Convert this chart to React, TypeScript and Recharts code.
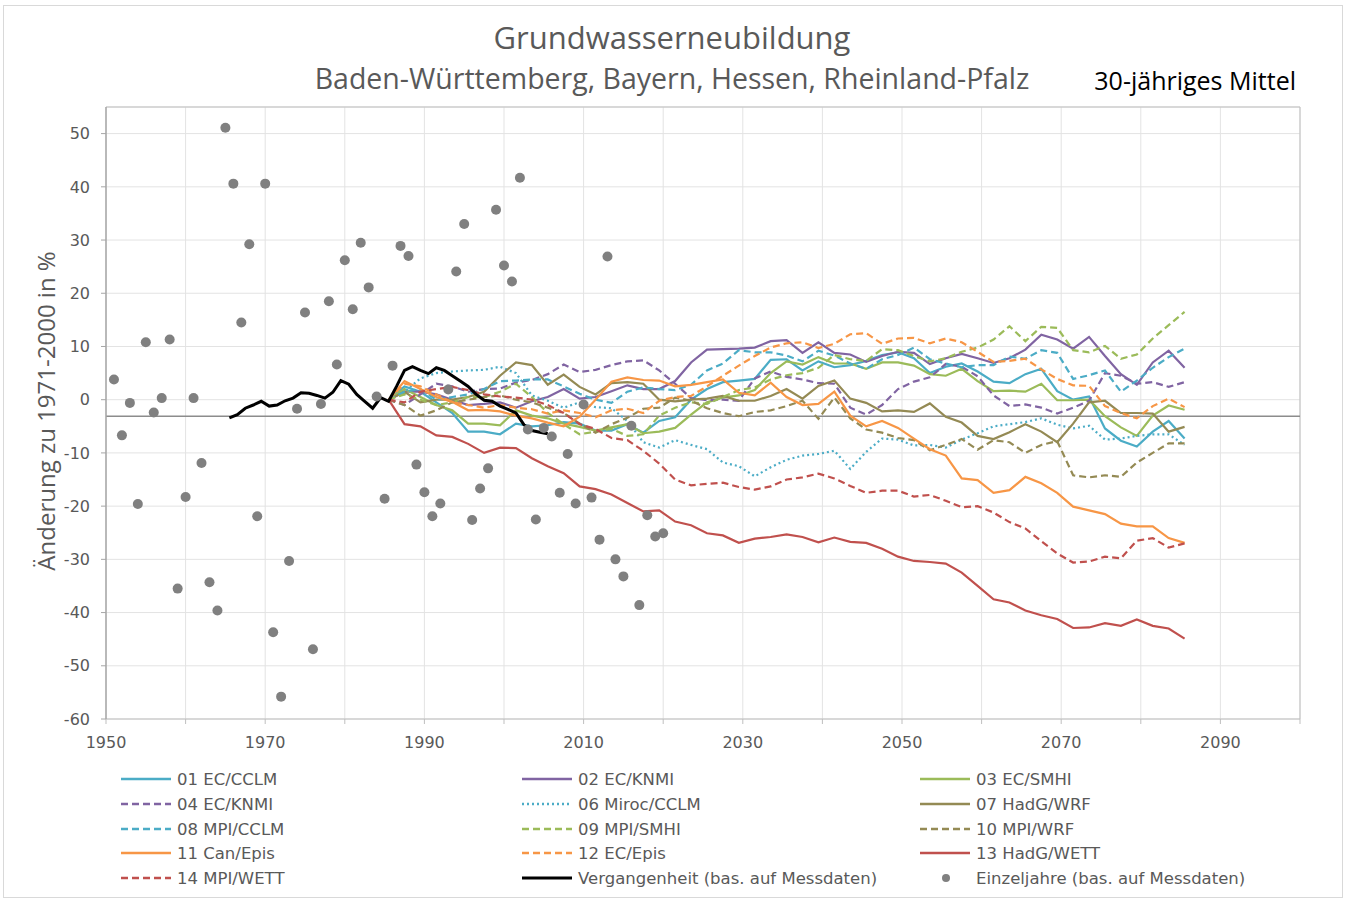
import React from "react"
import {
  ComposedChart,
  Line,
  Scatter,
  XAxis,
  YAxis,
  CartesianGrid,
  ReferenceLine,
} from "recharts"

// 30-jährige Mittel, je ein Wert alle zwei Jahre (gezeichnet zur Jahresmitte)
const modelYears = [
  1986, 1988, 1990, 1992, 1994, 1996, 1998, 2000, 2002, 2004,
  2006, 2008, 2010, 2012, 2014, 2016, 2018, 2020, 2022, 2024,
  2026, 2028, 2030, 2032, 2034, 2036, 2038, 2040, 2042, 2044,
  2046, 2048, 2050, 2052, 2054, 2056, 2058, 2060, 2062, 2064,
  2066, 2068, 2070, 2072, 2074, 2076, 2078, 2080, 2082, 2084,
  2086,
]

const ecCclm = [
  0, 2.5, 1.5, -0.5, -2.5, -6, -6, -6.5, -4.5, -5,
  -4.8, -4.2, -4.5, -5.8, -5.8, -4.6, -6.2, -4, -3.3, 0,
  2, 3.3, 3.6, 3.9, 7.5, 7.6, 5.5, 7.2, 6.1, 6.5,
  7.3, 8.4, 8.9, 7.8, 5, 6.2, 6.8, 5.3, 3.4, 3.1,
  4.8, 5.8, 1.6, 0, 0.6, -5.4, -7.7, -8.8, -6, -4,
  -7.3,
]
const ecKnmi = [
  0, 1.5, 1.5, 1, 0, -1, -0.8, -0.5, -1.5, -0.3,
  0.5, 2, 0.2, 0.5, 1.6, 2.7, 2, 2, 3.5, 7,
  9.4, 9.5, 9.6, 9.8, 11, 11.2, 8.8, 10.8, 8.8, 8.5,
  7.1, 8.2, 9, 8.8, 6.7, 7.8, 8.6, 7.8, 6.9, 7.8,
  9.4, 12.2, 11.3, 9.6, 11.8, 8.2, 4.8, 2.8, 7, 9.2,
  6,
]
const ecSmhi = [
  0, 2, 0.5, -1, -2, -4.5, -4.5, -4.8, -2, -3,
  -3.5, -4.5, -5.1, -5.8, -5.2, -4.6, -6.3, -6, -5.3, -2.8,
  -0.5, 0.4, 0.8, 1.8, 5, 7.2, 6.6, 8, 6.8, 6.8,
  5.8, 7, 7, 6.4, 4.8, 4.5, 5.8, 3.5, 1.6, 1.7,
  1.5, 3, -0.1, -0.1, 0, -3.1, -5.2, -6.8, -3, -1.1,
  -1.9,
]
const ecKnmi2 = [
  0, -1, 1, 3, 2.5, 1.5, 2, 2.1, 3.2, 3.7,
  4.8, 6.6, 5.2, 5.6, 6.5, 7.2, 7.4, 5.5, 3, 0.3,
  -0.1, 0, -0.2, 4, 5.3, 4.3, 3.8, 3.1, 3, -1.5,
  -2.8, -1, 2, 3.4, 4.2, 6.7, 6.2, 4.4, 0.8, -1.2,
  -0.9, -1.5, -2.6, -1.5, -0.2, 5, 4.5, 3, 3.3, 2.4,
  3.3,
]
const mirocCclm = [
  0, 1.5, 4, 5, 5.3, 5.5, 5.6, 6.2, 5, 0.8,
  -0.2, -1.5, -0.5, -1.4, -1.6, -4, -8, -9, -7.6, -8.5,
  -9.3, -11.8, -12.5, -14.4, -12.7, -11.3, -10.5, -10.2, -9.6, -13,
  -9.8, -7.3, -7.5, -8.6, -8.5, -9, -7.5, -6.3, -5, -4.6,
  -4.2, -3.5, -4.7, -5.4, -4.9, -7.5, -7.3, -6.8, -6.5, -6.5,
  -8.5,
]
const hadgWrf = [
  0, 1.5, -0.5, 0, 0, 0.5, 1.5, 4.5, 7, 6.5,
  2.8, 4.7, 2.4, 1, 3.1, 3.3, 3, 0, -0.3, 0,
  0.2, 0.7, -0.2, -0.2, 0.7, 2, 0.2, 2.6, 3.6, 0.2,
  -0.6, -2.2, -2, -2.3, -0.7, -3.2, -4.3, -6.8, -7.4, -6.1,
  -4.6, -6, -8, -4.5, -0.5, -0.2, -2.5, -2.5, -2.6, -6,
  -5.1,
]
const mpiCclm = [
  0, 1.5, 2, 0, 0.5, 1, 2, 3.5, 3.6, 3.8,
  3.8, 2.5, 1.1, 0, -0.6, 1.5, 2.3, 2, 1.8, 2.8,
  5.5, 6.8, 9.3, 8.9, 8.9, 8.3, 7.2, 9.2, 8.3, 6.8,
  5.8, 7.6, 8.4, 9.8, 7.6, 6.8, 6.1, 6.5, 6.5, 8.1,
  7.7, 9.3, 8.8, 3.9, 4.6, 5.5, 1.5, 3.6, 6, 8,
  9.6,
]
const mpiSmhi = [
  0, 1, 0, -1, -0.5, 0.5, 0.5, 1.5, 3, 0.5,
  -2.5, -4.6, -6.5, -6, -5.5, -6.8, -6.5, -3, -1.5, -0.5,
  -0.8, 0.5, 1.8, 2.3, 3.8, 4.6, 5, 6, 8.4, 7.6,
  7.3, 9.5, 9.3, 8.2, 7.2, 7.8, 9, 9.8, 11.3, 13.8,
  11, 13.7, 13.5, 9.3, 8.9, 10.1, 7.7, 8.5, 11.5, 14,
  16.5,
]
const mpiWrf = [
  0, -1, -3, -2, -0.5, 0, 0.5, 0.8, 0, -0.5,
  -1.5, -2.5, -4.5, -6.2, -4.6, -3.4, -1.7, -1.5, 0.4, -0.2,
  -1.6, -2.5, -3.1, -2.3, -2, -1.2, -0.2, -3.6, 0.4, -3.5,
  -5.6, -6.2, -7.2, -7.6, -9.5, -8.5, -7.4, -9.4, -7.6, -8,
  -10, -8.5, -7.8, -14.2, -14.6, -14.2, -14.5, -11.8, -10, -8.2,
  -8.2,
]
const canEpis = [
  0, 3.5, 2, 0.5, -0.4, -2, -1.9, -2.2, -3, -3.5,
  -4.3, -5, -3.2, 0, 3.4, 4.2, 3.7, 3.6, 2.5, 2.8,
  3.3, 3.8, 1.3, 0.8, 3.2, 0.5, -1, -0.8, 1.5, -3,
  -5, -4, -5.3, -7.3, -9.3, -10.5, -14.8, -15.1, -17.5, -17,
  -14.5, -15.7, -17.5, -20.1, -20.8, -21.5, -23.3, -23.8, -23.8, -26,
  -26.9,
]
const ecEpis = [
  0, 3, 2.5, 1, -0.5, -1, -1.5, -1, -1.5, -1.8,
  -2.6, -2, -2.5, -3.3, -2, -1.7, -2.5, -0.2, 0.5, 0.7,
  2.5, 4.5, 6.4, 8.2, 9.8, 10.6, 10.8, 9.7, 10.5, 12.3,
  12.5, 10.5, 11.5, 11.6, 10.6, 11.5, 10.8, 9, 7.1, 7.3,
  7.7, 5.7, 3.9, 2.7, 2.6, -1.2, -2.5, -3.5, -1.2, 0.2,
  -1.4,
]
const hadgWett = [
  0, -4.6, -5, -6.7, -7, -8.3, -10, -9, -9.1, -11,
  -12.5, -13.8, -16.3, -16.8, -17.8, -19.4, -21, -20.8, -22.9, -23.6,
  -25.1, -25.5, -26.9, -26.1, -25.8, -25.3, -25.8, -26.8, -25.9, -26.7,
  -26.9, -28, -29.5, -30.3, -30.5, -30.8, -32.5, -35, -37.5, -38.1,
  -39.6, -40.5, -41.2, -42.9, -42.8, -42, -42.5, -41.3, -42.5, -43,
  -44.9,
]
const mpiWett = [
  0, -0.5, 1.5, 2, 2.4, 1.8, 1, 0.6, 0.4, 0,
  -1, -2.5, -4.6, -5.5, -7.2, -7.6, -9.6, -12, -15, -16.1,
  -15.8, -15.6, -16.4, -16.9, -16.3, -15, -14.6, -13.9, -14.8, -16.2,
  -17.5, -17.1, -17.1, -18.2, -17.9, -19, -20.2, -20, -21.2, -23,
  -24.2, -26.6, -28.9, -30.6, -30.4, -29.5, -29.8, -26.5, -26, -27.8,
  -27,
]

// Vergangenheit (bas. auf Messdaten), gleitendes Mittel
const pastYears = [
  1965, 1966, 1967, 1968, 1969, 1970, 1971, 1972, 1973, 1974,
  1975, 1976, 1977, 1978, 1979, 1980, 1981, 1982, 1983, 1984,
  1985, 1986, 1987, 1988, 1989, 1990, 1991, 1992, 1993, 1994,
  1995, 1996, 1997, 1998, 1999, 2000, 2001, 2002, 2003, 2004,
  2005,
]
const pastValues = [
  -3.4, -2.8, -1.6, -1, -0.3, -1.2, -1, -0.2, 0.3, 1.3,
  1.2, 0.8, 0.3, 1.4, 3.6, 2.9, 1, -0.3, -1.6, 0.4,
  -0.3, 2.5, 5.5, 6.2, 5.5, 4.9, 6, 5.5, 4.5, 3.5,
  2.5, 1, -0.1, -0.3, -1.2, -1.8, -2.5, -4.7, -5.8, -6.1,
  -6.4,
]

// Einzeljahre (bas. auf Messdaten)
const singleYears = [
  1951, 1952, 1953, 1954, 1955, 1956, 1957, 1958, 1959, 1960,
  1961, 1962, 1963, 1964, 1965, 1966, 1967, 1968, 1969, 1970,
  1971, 1972, 1973, 1974, 1975, 1976, 1977, 1978, 1979, 1980,
  1981, 1982, 1983, 1984, 1985, 1986, 1987, 1988, 1989, 1990,
  1991, 1992, 1993, 1994, 1995, 1996, 1997, 1998, 1999, 2000,
  2001, 2002, 2003, 2004, 2005, 2006, 2007, 2008, 2009, 2010,
  2011, 2012, 2013, 2014, 2015, 2016, 2017, 2018, 2019, 2020,
]
const singleValues = [
  3.8, -6.7, -0.6, -19.6, 10.8, -2.4, 0.3, 11.3, -35.5, -18.3,
  0.3, -11.9, -34.3, -39.6, 51.1, 40.6, 14.5, 29.2, -21.9, 40.6,
  -43.7, -55.8, -30.3, -1.7, 16.4, -46.9, -0.8, 18.5, 6.6, 26.2,
  17, 29.5, 21.1, 0.6, -18.6, 6.4, 28.9, 27, -12.2, -17.4,
  -21.9, -19.5, 1.9, 24.1, 33, -22.6, -16.7, -12.9, 35.7, 25.2,
  22.2, 41.7, -5.6, -22.5, -5.3, -6.9, -17.5, -10.2, -19.5, -0.9,
  -18.4, -26.3, 26.9, -30, -33.2, -4.9, -38.6, -21.7, -25.7, -25.1,
]

const meanLevel = -3.1
const xTicks = [1950, 1960, 1970, 1980, 1990, 2000, 2010, 2020, 2030, 2040, 2050, 2060, 2070, 2080, 2090, 2100]
const yTicks = [-60, -50, -40, -30, -20, -10, 0, 10, 20, 30, 40, 50]

const CYAN = "#4bacc6"
const PURPLE = "#8064a2"
const GREEN = "#9bbb59"
const OLIVE = "#948a54"
const ORANGE = "#f79646"
const RED = "#c0504d"
const DASH = "7 4"
const DOT = "2 3"

const series = [
  { name: "01 EC/CCLM", values: ecCclm, color: CYAN, dash: undefined },
  { name: "02 EC/KNMI", values: ecKnmi, color: PURPLE, dash: undefined },
  { name: "03 EC/SMHI", values: ecSmhi, color: GREEN, dash: undefined },
  { name: "04 EC/KNMI", values: ecKnmi2, color: PURPLE, dash: DASH },
  { name: "06 Miroc/CCLM", values: mirocCclm, color: CYAN, dash: DOT },
  { name: "07 HadG/WRF", values: hadgWrf, color: OLIVE, dash: undefined },
  { name: "08 MPI/CCLM", values: mpiCclm, color: CYAN, dash: DASH },
  { name: "09 MPI/SMHI", values: mpiSmhi, color: GREEN, dash: DASH },
  { name: "10 MPI/WRF", values: mpiWrf, color: OLIVE, dash: DASH },
  { name: "11 Can/Epis", values: canEpis, color: ORANGE, dash: undefined },
  { name: "12 EC/Epis", values: ecEpis, color: ORANGE, dash: DASH },
  { name: "13 HadG/WETT", values: hadgWett, color: RED, dash: undefined },
  { name: "14 MPI/WETT", values: mpiWett, color: RED, dash: DASH },
]

const pastData = pastYears.map((yr, i) => ({ x: yr + 0.5, v: pastValues[i] }))
const singleData = singleYears.map((yr, i) => ({ x: yr, v: singleValues[i] }))

const TICK_FONT = "'DejaVu Sans', Verdana, sans-serif"
const TITLE_FONT = "'Open Sans', 'Noto Sans', sans-serif"
const GREY_TEXT = "#595959"

function Dot(props: any) {
  const { cx, cy } = props
  if (cx == null || cy == null) return null
  return <circle cx={cx} cy={cy} r={5} fill="#808080" />
}

const legendItems = [
  ...series.map((s) => ({ name: s.name, color: s.color, dash: s.dash, kind: "line" })),
  { name: "Vergangenheit (bas. auf Messdaten)", color: "#000", dash: undefined, kind: "past" },
  { name: "Einzeljahre (bas. auf Messdaten)", color: "#808080", dash: undefined, kind: "dot" },
]

function LegendBlock() {
  const colX = [121, 522, 920]
  const rowY = [779, 804, 829, 853, 878]
  return (
    <g>
      {legendItems.map((it, i) => {
        const x = colX[i % 3]
        const y = rowY[Math.floor(i / 3)]
        return (
          <g key={it.name}>
            {it.kind === "dot" ? (
              <circle cx={x + 26} cy={y} r={4} fill={it.color} />
            ) : (
              <line
                x1={x}
                x2={x + 50}
                y1={y}
                y2={y}
                stroke={it.color}
                strokeWidth={it.kind === "past" ? 3 : 2.5}
                strokeDasharray={it.dash}
              />
            )}
            <text x={x + 56} y={y} dominantBaseline="central" fontSize={16.5} fontFamily={TICK_FONT} fill={GREY_TEXT}>
              {it.name}
            </text>
          </g>
        )
      })}
    </g>
  )
}

export default function App() {
  return (
    <div style={{ position: "absolute", left: 0, top: 0, width: 1347, height: 902, background: "#fff" }}>
      <div
        style={{
          position: "absolute",
          left: 3,
          top: 5,
          width: 1338,
          height: 891,
          border: "1px solid #d9d9d9",
        }}
      />
      <ComposedChart
        width={1347}
        height={902}
        margin={{ top: 107, right: 47, bottom: 153, left: 46 }}
        style={{ position: "absolute", left: 0, top: 0 }}
      >
        <CartesianGrid stroke="#e3e3e3" vertical={true} horizontal={true} />
        <XAxis
          type="number"
          dataKey="x"
          domain={[1950, 2100]}
          ticks={xTicks}
          allowDataOverflow
          height={30}
          tickFormatter={(v: number) => ((v - 1950) % 20 === 0 && v < 2100 ? String(v) : "")}
          tick={{ fontSize: 16, fill: GREY_TEXT, fontFamily: TICK_FONT }}
          tickLine={{ stroke: "#bfbfbf" }}
          tickSize={5}
          tickMargin={13}
          axisLine={{ stroke: "#bfbfbf" }}
        />
        <YAxis
          type="number"
          domain={[-60, 55]}
          ticks={yTicks}
          allowDataOverflow
          width={60}
          tick={{ fontSize: 16, fill: GREY_TEXT, fontFamily: TICK_FONT }}
          tickLine={{ stroke: "#a6a6a6" }}
          tickSize={5}
          tickMargin={11}
          axisLine={{ stroke: "#a6a6a6", strokeWidth: 1.5 }}
        />
        <ReferenceLine y={55} stroke="#bfbfbf" />
        <ReferenceLine x={2100} stroke="#bfbfbf" />
        <ReferenceLine y={meanLevel} stroke="#8c8c8c" strokeWidth={1.5} />
        {series.map((s) => (
          <Line
            key={s.name}
            data={modelYears.map((yr, i) => ({ x: yr - 0.5, v: s.values[i] }))}
            dataKey="v"
            name={s.name}
            type="linear"
            stroke={s.color}
            strokeWidth={2.2}
            strokeDasharray={s.dash}
            dot={false}
            activeDot={false}
            isAnimationActive={false}
          />
        ))}
        <Line
          data={pastData}
          dataKey="v"
          name="Vergangenheit (bas. auf Messdaten)"
          type="linear"
          stroke="#000"
          strokeWidth={3}
          dot={false}
          activeDot={false}
          isAnimationActive={false}
        />
        <Scatter
          data={singleData}
          dataKey="v"
          name="Einzeljahre (bas. auf Messdaten)"
          shape={<Dot />}
          isAnimationActive={false}
        />
      </ComposedChart>
      <svg width={1347} height={902} style={{ position: "absolute", left: 0, top: 0, pointerEvents: "none" }}>
        <text x={672} y={49} textAnchor="middle" fontSize={31} fontFamily={TITLE_FONT} fill={GREY_TEXT}>
          Grundwasserneubildung
        </text>
        <text x={672} y={89} textAnchor="middle" fontSize={28.5} fontFamily={TITLE_FONT} fill={GREY_TEXT}>
          Baden-Württemberg, Bayern, Hessen, Rheinland-Pfalz
        </text>
        <text x={1296} y={90} textAnchor="end" fontSize={25} fontFamily={TITLE_FONT} fill="#000">
          30-jähriges Mittel
        </text>
        <text
          x={45}
          y={411}
          textAnchor="middle"
          dominantBaseline="central"
          transform="rotate(-90 45 411)"
          fontSize={24}
          fontFamily={TITLE_FONT}
          fill={GREY_TEXT}
        >
          Änderung zu 1971-2000 in %
        </text>
        <LegendBlock />
      </svg>
    </div>
  )
}
